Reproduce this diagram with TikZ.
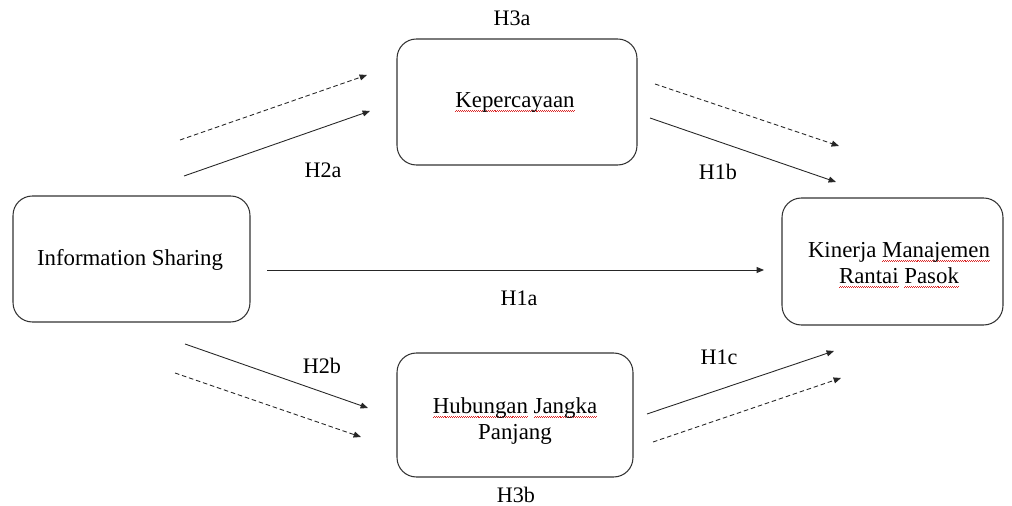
\documentclass[tikz,border=0pt]{standalone}
\usepackage{fontspec}
\setmainfont{Liberation Serif}
\usetikzlibrary{arrows.meta}
\definecolor{squig}{RGB}{220,40,40}
\newsavebox\splbox
\newcommand\zz{\hbox{\rule{0.55pt}{0.4pt}\raise0.45pt\hbox{\rule{0.55pt}{0.4pt}}}}
\newcommand\spl[1]{\leavevmode\sbox\splbox{#1}\rlap{\color{squig}\lower2.4pt\hbox to \wd\splbox{\xleaders\zz\hfil}}\usebox\splbox}
\begin{document}
\begin{tikzpicture}[x=0.02cm,y=-0.02cm,
  box/.style={draw=black!80, line width=0.6pt, rounded corners=11pt, inner sep=0pt},
  txt/.style={inner sep=0pt, align=center, font=\fontsize{13}{15}\selectfont},
  lbl/.style={inner sep=0pt, font=\fontsize{12.6}{15}\selectfont},
  solidarrow/.style={line width=0.5pt, draw=black!85, -{Triangle[length=4.2pt,width=3.4pt]}},
  dasharrow/.style={solidarrow, dash pattern=on 2.6pt off 1.6pt}]
\useasboundingbox (0,0) rectangle (1012,506);
% boxes
\node[box, minimum width=4.8cm, minimum height=2.52cm] (kep) at (517,102) {};
\node[box, minimum width=4.74cm, minimum height=2.52cm] (info) at (131.5,259) {};
\node[box, minimum width=4.42cm, minimum height=2.54cm] (kin) at (892.5,261.5) {};
\node[box, minimum width=4.72cm, minimum height=2.48cm] (hub) at (515,415) {};
% box texts
\node[txt] (keptxt) at (515,102) {\spl{Kepercayaan}};
\node[txt] (infotxt) at (130,260) {Information Sharing};
\node[txt] (kintxt) at (899,265) {Kinerja \spl{Manajemen}\\\spl{Rantai} \spl{Pasok}};
\node[txt] (hubtxt) at (515,421) {\spl{Hubungan} \spl{Jangka}\\Panjang};
% labels
\node[lbl] (h3a) at (512,18) {H3a};
\node[lbl] (h2a) at (323,170) {H2a};
\node[lbl] (h1b) at (718,172) {H1b};
\node[lbl] (h1a) at (519,298) {H1a};
\node[lbl] (h2b) at (322,366) {H2b};
\node[lbl] (h1c) at (719,357) {H1c};
\node[lbl] (h3b) at (516,495) {H3b};
% arrow endpoints
\coordinate (ula) at (180,140); \coordinate (ulb) at (367,75);
\coordinate (usa) at (184,176); \coordinate (usb) at (370,111);
\coordinate (urda) at (655,84); \coordinate (urdb) at (839,146);
\coordinate (ursa) at (650,118); \coordinate (ursb) at (836,182);
\coordinate (ma) at (267,270); \coordinate (mb) at (764,270);
\coordinate (lsa) at (185,344); \coordinate (lsb) at (368,408);
\coordinate (lda) at (175,373); \coordinate (ldb) at (361,437);
\coordinate (rsa) at (647,414); \coordinate (rsb) at (834,351);
\coordinate (rda) at (653,442); \coordinate (rdb) at (841,378);
% arrows
\draw[dasharrow] (ula) -- (ulb);
\draw[solidarrow] (usa) -- (usb);
\draw[dasharrow] (urda) -- (urdb);
\draw[solidarrow] (ursa) -- (ursb);
\draw[solidarrow] (ma) -- (mb);
\draw[solidarrow] (lsa) -- (lsb);
\draw[dasharrow] (lda) -- (ldb);
\draw[solidarrow] (rsa) -- (rsb);
\draw[dasharrow] (rda) -- (rdb);
\end{tikzpicture}
\end{document}
